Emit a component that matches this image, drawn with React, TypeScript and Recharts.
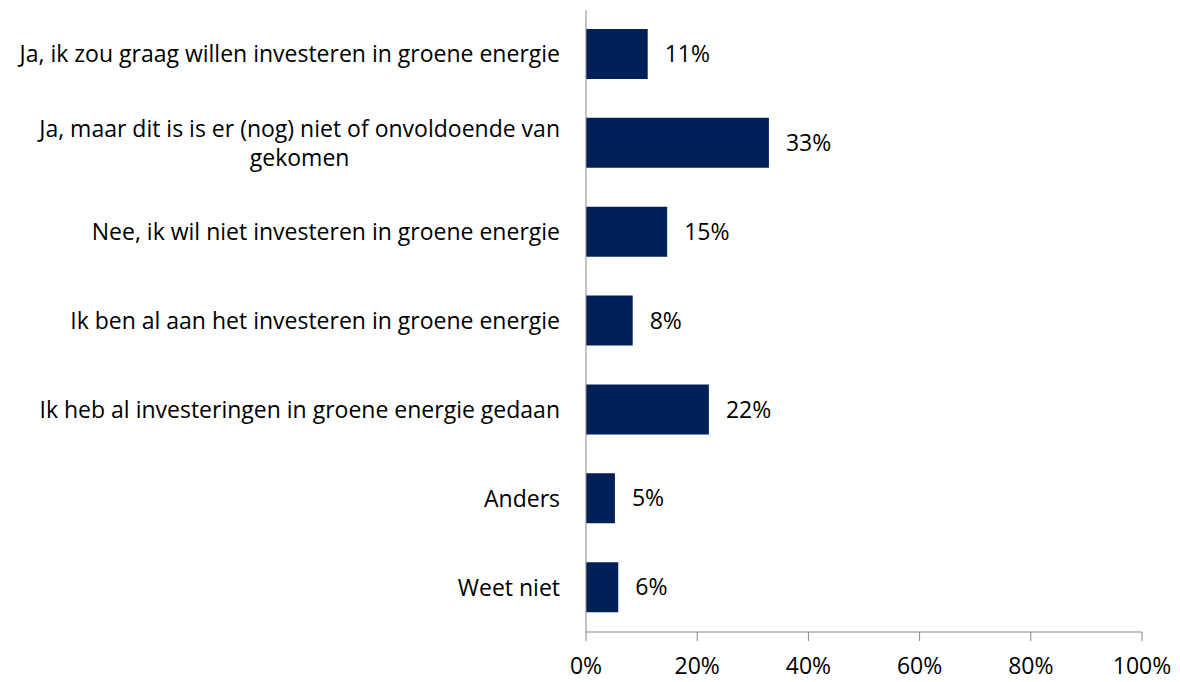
import React from 'react';
import { BarChart, Bar, XAxis, YAxis, LabelList } from 'recharts';

// Answer categories (top to bottom)
const CATEGORIES = [
  'Ja, ik zou graag willen investeren in groene energie',
  'Ja, maar dit is is er (nog) niet of onvoldoende van\ngekomen',
  'Nee, ik wil niet investeren in groene energie',
  'Ik ben al aan het investeren in groene energie',
  'Ik heb al investeringen in groene energie gedaan',
  'Anders',
  'Weet niet',
];

// Share of respondents (%)
const VALUES = [11.1, 32.9, 14.6, 8.4, 22.1, 5.2, 5.8];

const X_TICKS = [0, 20, 40, 60, 80, 100];

const FONT = '"Open Sans", sans-serif';
const FONT_SIZE = 23;
const BAR_COLOR = '#002157';
const AXIS_COLOR = '#888888';

const data = CATEGORIES.map((name, i) => ({ name, value: VALUES[i] }));

let measureCtx: CanvasRenderingContext2D | null = null;
const textWidth = (s: string) => {
  if (!measureCtx) measureCtx = document.createElement('canvas').getContext('2d');
  if (!measureCtx) return s.length * 11;
  measureCtx.font = `${FONT_SIZE}px "Open Sans"`;
  return measureCtx.measureText(s).width;
};

// Right-aligned category label, lines centred against each other (like Excel)
const CategoryTick = ({ x, y, payload }: any) => {
  const lines: string[] = String(payload.value).split('\n');
  const maxW = Math.max(...lines.map(textWidth));
  const lineH = 29;
  const startY = y - ((lines.length - 1) * lineH) / 2;
  return (
    <g>
      {lines.map((line, i) => (
        <text
          key={i}
          x={lines.length > 1 ? x - maxW / 2 : x}
          y={startY + i * lineH}
          dy="0.35em"
          textAnchor={lines.length > 1 ? 'middle' : 'end'}
          fontSize={FONT_SIZE}
          fontFamily={FONT}
          fill="#000"
        >
          {line}
        </text>
      ))}
    </g>
  );
};

export default function App() {
  return (
    <div style={{ position: 'absolute', left: 0, top: 0, width: 1180, height: 682, background: '#fff' }}>
      <BarChart
        width={1180}
        height={682}
        data={data}
        layout="vertical"
        margin={{ top: 10, right: 38, bottom: 10, left: 0 }}
        barCategoryGap={19}
      >
        <XAxis
          type="number"
          domain={[0, 100]}
          ticks={X_TICKS}
          interval={0}
          tickFormatter={(v) => `${v}%`}
          height={40}
          stroke={AXIS_COLOR}
          tickSize={9}
          tickMargin={17}
          tick={{ fontSize: FONT_SIZE, fontFamily: FONT, fill: '#000' }}
        />
        <YAxis
          type="category"
          dataKey="name"
          width={586}
          stroke={AXIS_COLOR}
          tickLine={false}
          tickSize={6}
          tickMargin={20}
          interval={0}
          tick={<CategoryTick />}
        />
        <Bar dataKey="value" fill={BAR_COLOR} barSize={50} isAnimationActive={false}>
          <LabelList
            dataKey="value"
            position="right"
            offset={17}
            formatter={(v: any) => `${Math.round(v)}%`}
            style={{ fontSize: FONT_SIZE, fontFamily: FONT, fill: '#000' }}
          />
        </Bar>
      </BarChart>
    </div>
  );
}
